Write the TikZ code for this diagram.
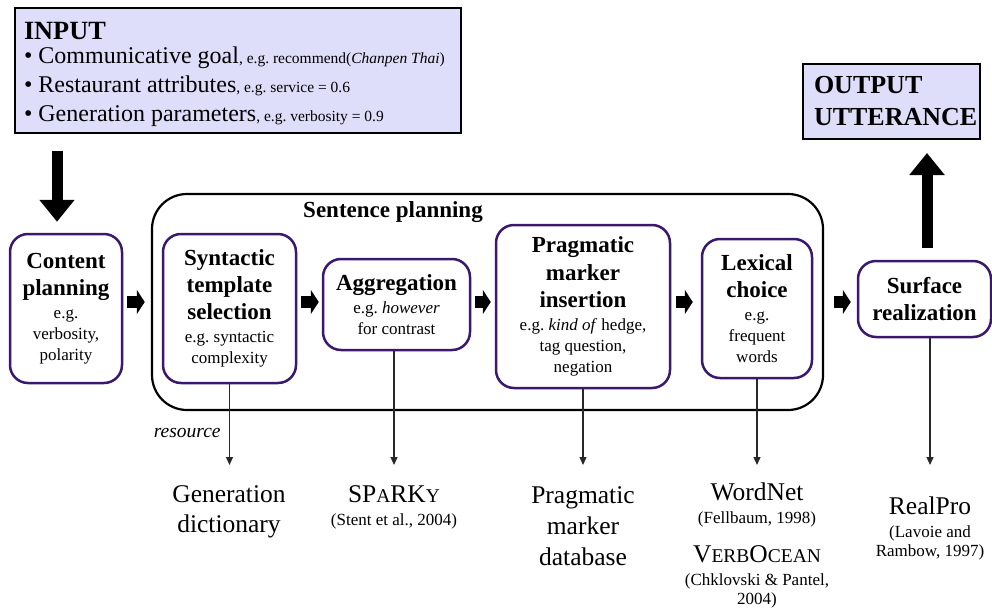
\documentclass[tikz,border=0pt]{standalone}
\usepackage{fontspec}
\setmainfont{Liberation Serif}
\usetikzlibrary{arrows.meta}
\definecolor{stagepurple}{RGB}{58,24,110}
\definecolor{iofill}{RGB}{222,222,250}
\definecolor{resgray}{RGB}{40,40,40}
\newcommand{\ttl}[1]{{\fontsize{23}{27}\selectfont\bfseries #1}}
\newcommand{\refnote}[1]{{\fontsize{17}{20}\selectfont #1}}
\newcommand{\smallcap}[1]{{\fontsize{19.5}{20}\selectfont #1}}
\newcommand{\egnote}[1]{{\fontsize{15.5}{29}\selectfont\spaceskip=0pt\xspaceskip=0pt #1}}
\frenchspacing
\tikzset{%
    stagebox/.style={%
        draw=stagepurple, line width=2.5pt, rounded corners=18pt,
        fill=white, align=center, inner sep=0pt,
        font=\fontsize{17}{21}\selectfont},
    iobox/.style={draw=black, line width=2pt, fill=iofill, inner ysep=4pt, inner xsep=11pt, align=left},
    bigarrow/.style={line width=11pt, -{Triangle[width=34pt,length=22pt]}},
    fatarrow/.style={line width=12pt, -{Triangle[width=24pt,length=8pt]}},
    resarrow/.style={draw=resgray, line width=1.2pt, -{Triangle[width=7pt,length=8pt]}},
    reslabel/.style={align=center, inner sep=0pt, font=\fontsize{25.5}{31}\selectfont}
}

\begin{document}
\begin{tikzpicture}[x=1pt,y=-1pt]
\useasboundingbox (0,0) rectangle (992,607);

\node[iobox, text width=428pt, inner xsep=9pt, minimum height=125pt,
      font=\fontsize{24}{29}\selectfont] (input) at (238,70.5)
    {\spaceskip=0pt\xspaceskip=0pt
     {\fontsize{26.3}{29}\selectfont\bfseries\rule{0pt}{26pt}INPUT}\\[-5pt]
     \textbullet\ Communicative goal\egnote{, e.g. recommend(\textit{Chanpen Thai})}\\
     \textbullet\ Restaurant attributes\egnote{, e.g. service = 0.6}\\
     \textbullet\ Generation parameters\egnote{, e.g. verbosity = 0.9}};
\node[iobox, text width=155pt, minimum height=75pt,
      font=\fontsize{26}{32}\selectfont\bfseries] (output) at (891.5,101.5)
    {OUTPUT\\UTTERANCE};

% sentence planning frame
\node[draw, line width=2.2pt, rounded corners=35pt,
      minimum width=671pt, minimum height=216pt] (sentframe) at (487.5,302) {};
\node[font=\fontsize{23}{27}\selectfont\bfseries] (sptitle) at (393,212) {Sentence planning};

\node[stagebox, minimum width=112pt, minimum height=149pt] (content) at (66,308.5)
    {\ttl{Content}\\[6pt]\ttl{planning}\\[2pt]e.g.\\verbosity,\\polarity};
\node[stagebox, minimum width=133pt, minimum height=149pt] (syntactic) at (229.5,308.5)
    {\ttl{Syntactic}\\[6pt]\ttl{template}\\[6pt]\ttl{selection}\\[2pt]e.g. syntactic\\complexity};
\node[stagebox, minimum width=147pt, minimum height=91pt] (aggregation) at (396.5,304.5)
    {\ttl{Aggregation}\\[2pt]e.g. \textit{however}\\for contrast};
\node[stagebox, minimum width=174pt, minimum height=163pt] (pragmatic) at (583,306.5)
    {\ttl{Pragmatic}\\[6pt]\ttl{marker}\\[6pt]\ttl{insertion}\\[2pt]e.g. \textit{kind of} hedge,\\tag question,\\negation};
\node[stagebox, minimum width=110pt, minimum height=139pt] (lexical) at (757,308.5)
    {\ttl{Lexical}\\[6pt]\ttl{choice}\\[2pt]e.g.\\frequent\\words};
\node[stagebox, minimum width=133pt, minimum height=76pt] (surface) at (924.5,299)
    {\ttl{Surface}\\[6pt]\ttl{realization}};

\draw[bigarrow, shorten <=17pt, shorten >=11pt]
    ([xshift=-9pt]content.north |- input.south) -- ([xshift=-9pt]content.north);
\draw[bigarrow, shorten <=12pt, shorten >=13pt]
    ([xshift=2.5pt]surface.north) -- ([xshift=2.5pt]surface.north |- output.south);

\coordinate (flow) at (0,302);
\draw[fatarrow, shorten <=4pt, shorten >=17pt] (content.east |- flow) -- (syntactic.west |- flow);
\draw[fatarrow, shorten <=4pt, shorten >=3pt] (syntactic.east |- flow) -- (aggregation.west |- flow);
\draw[fatarrow, shorten <=4pt, shorten >=4pt] (aggregation.east |- flow) -- (pragmatic.west |- flow);
\draw[fatarrow, shorten <=5pt, shorten >=8pt] (pragmatic.east |- flow) -- (lexical.west |- flow);
\draw[fatarrow, shorten <=21pt, shorten >=6pt] (lexical.east |- flow) -- (surface.west |- flow);

% resources
\node[reslabel] (gendict) at (229,512) {Generation\\[-1pt]dictionary};
\node[reslabel] (sparky) at (394,507) {SP\smallcap{A}RK\smallcap{Y}\\[-8pt]\refnote{(Stent et al., 2004)}};
\node[reslabel] (pmdb) at (583,526) {Pragmatic\\marker\\database};
\node[reslabel] (wordnet) at (757,545)
    {WordNet\\[-8pt]\refnote{(Fellbaum, 1998)}\\[8pt]V\smallcap{ERB}O\smallcap{CEAN}\\[-8pt]\refnote{(Chklovski \& Pantel,}\\[-12pt]\refnote{2004)}};
\node[reslabel] (realpro) at (930,528)
    {RealPro\\[-8pt]\refnote{(Lavoie and}\\[-12pt]\refnote{Rambow, 1997)}};

\coordinate (resline) at (0,465);
\draw[resarrow] (syntactic.south) -- (syntactic.south |- resline)
    node[pos=0.6, left=5pt, font=\fontsize{19.5}{22}\selectfont\itshape] (reslab) {resource};
\draw[resarrow] ([xshift=-2.5pt]aggregation.south) -- ([xshift=-2.5pt]aggregation.south |- resline);
\draw[resarrow] (pragmatic.south) -- (pragmatic.south |- resline);
\draw[resarrow] (lexical.south) -- (lexical.south |- resline);
\draw[resarrow] ([xshift=5.5pt]surface.south) -- ([xshift=5.5pt]surface.south |- resline);
\end{tikzpicture}
\end{document}
